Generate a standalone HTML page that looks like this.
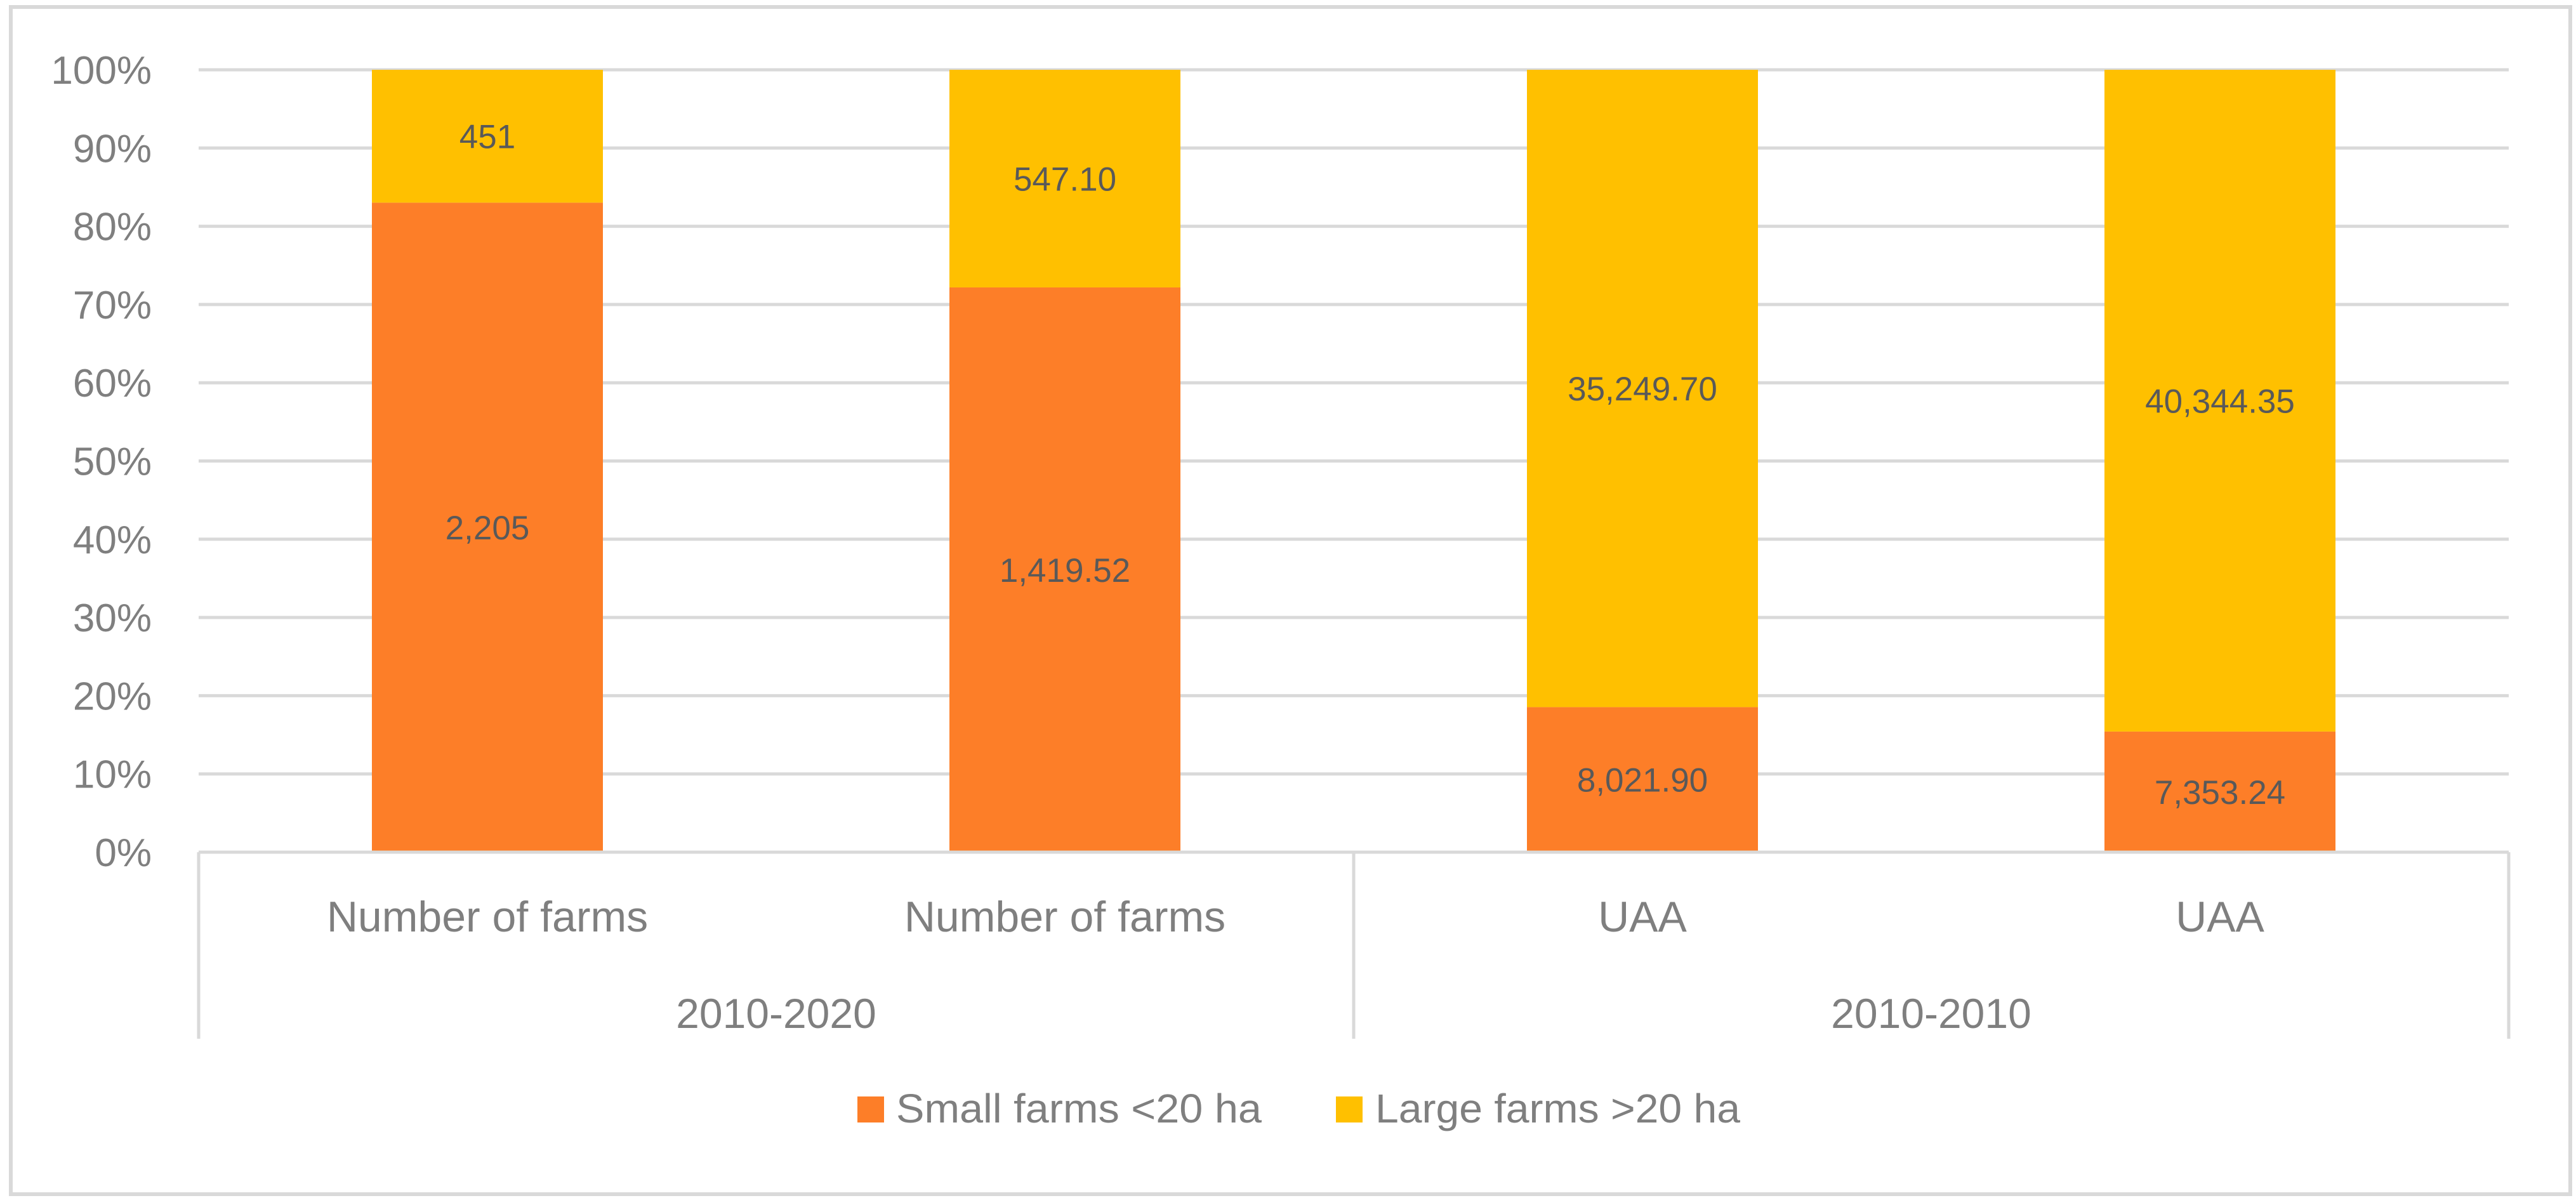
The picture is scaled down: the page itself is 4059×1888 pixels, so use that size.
<!DOCTYPE html>
<html><head><meta charset="utf-8"><style>
html,body{margin:0;padding:0;background:#fff;}
svg{display:block;font-family:"Liberation Sans",sans-serif;}
</style></head><body>
<svg id="chart" width="4059" height="1888" viewBox="0 0 4059 1888" xmlns="http://www.w3.org/2000/svg">
<rect x="17" y="11" width="4033" height="1871" fill="#fff" stroke="#d9d9d9" stroke-width="6"/>
<g id="grid"></g><g id="bars"></g><g id="labels"></g><g id="axis"></g>
<g>
<rect x="1351" y="1728" width="42" height="41" fill="#fd7e28"/>
<text x="1412" y="1769" font-size="64" fill="#7f7f7f" textLength="576" lengthAdjust="spacingAndGlyphs">Small farms &lt;20 ha</text>
<rect x="2105" y="1728" width="42" height="41" fill="#ffc000"/>
<text x="2167" y="1769" font-size="64" fill="#7f7f7f" textLength="575" lengthAdjust="spacingAndGlyphs">Large farms &gt;20 ha</text>
</g>
</svg>
<script>
const categories = ["Number of farms","Number of farms","UAA","UAA"];
const groups = ["2010-2020","2010-2010"];
const smallVals = [2205, 1419.52, 8021.90, 7353.24];
const largeVals = [451, 547.10, 35249.70, 40344.35];
const smallText = ["2,205","1,419.52","8,021.90","7,353.24"];
const largeText = ["451","547.10","35,249.70","40,344.35"];
const yTicks = [0,10,20,30,40,50,60,70,80,90,100];
const NS="http://www.w3.org/2000/svg";
const L=313,R=3953,T=110,B=1343;
const y=p=>B-(B-T)*p/100;
const bw=(R-L)/categories.length;
const xc=i=>L+bw*(i+0.5);
function mk(tag,attrs,parent,txt){const e=document.createElementNS(NS,tag);for(const k in attrs)e.setAttribute(k,attrs[k]);if(txt!==undefined)e.textContent=txt;document.getElementById(parent).appendChild(e);return e;}
yTicks.forEach(t=>{
  const g=mk('line',{x1:L,x2:R,y1:y(t),y2:y(t),stroke:'#d9d9d9','stroke-width':5},'grid');
  
  
  const tl=mk('text',{x:239,y:y(t)+22,'font-size':62,fill:'#7f7f7f','text-anchor':'end'},'axis',t+'%');
  
  
});
categories.forEach((c,i)=>{
  const tot=smallVals[i]+largeVals[i];
  const ps=smallVals[i]/tot*100;
  const w=bw*0.4;
  const s=mk('rect',{x:xc(i)-w/2,y:y(ps),width:w,height:y(0)-y(ps),fill:'#fd7e28'},'bars');
  
  
  const l=mk('rect',{x:xc(i)-w/2,y:y(100),width:w,height:y(ps)-y(100),fill:'#ffc000'},'bars');
  
  
  const st=mk('text',{x:xc(i),y:(y(0)+y(ps))/2+19,'font-size':53,fill:'#595959','text-anchor':'middle'},'labels',smallText[i]);
  
  
  const lt=mk('text',{x:xc(i),y:(y(ps)+y(100))/2+19,'font-size':53,fill:'#595959','text-anchor':'middle'},'labels',largeText[i]);
  
  
  const cl=mk('text',{x:xc(i),y:1468,'font-size':68,fill:'#7f7f7f','text-anchor':'middle'},'axis',c);
  
  
});
[[L,B,R,B],[L,B,L,1637],[(L+R)/2,B,(L+R)/2,1637],[R,B,R,1637]].forEach(a=>{
  const ln=mk('line',{x1:a[0],y1:a[1],x2:a[2],y2:a[3],stroke:'#d9d9d9','stroke-width':5},'axis');
  
  
});
groups.forEach((g,i)=>{
  const gl=mk('text',{x:L+(R-L)/4*(2*i+1),y:1620,'font-size':66,fill:'#7f7f7f','text-anchor':'middle'},'axis',g);
  
  
});
</script>
</body></html>
